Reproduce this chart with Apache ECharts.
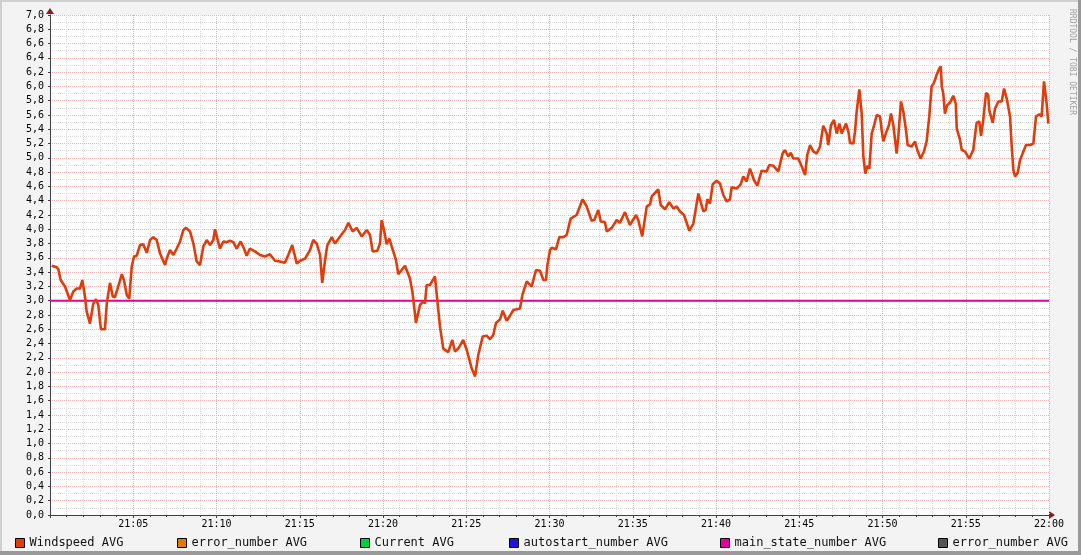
<!DOCTYPE html>
<html>
<head>
<meta charset="utf-8">
<script src="https://cdn.jsdelivr.net/npm/echarts@6/dist/echarts.min.js"></script>
<style>
html,body{margin:0;padding:0;background:#f3f3f3;}
#chart{width:1081px;height:555px;}
</style>
</head>
<body>
<div id="chart"></div>
<script>
// minutes after 21:00
const windMinutes = [0.10,0.40,0.50,0.64,0.90,1.20,1.40,1.60,1.80,1.94,2.10,2.20,2.40,2.60,2.76,2.90,3.06,3.30,3.41,3.60,3.77,3.90,4.10,4.31,4.44,4.61,4.76,4.91,5.05,5.21,5.41,5.60,5.81,6.01,6.20,6.41,6.61,6.91,7.01,7.21,7.41,7.61,7.81,8.01,8.17,8.41,8.61,8.81,9.01,9.21,9.41,9.61,9.81,9.91,10.05,10.21,10.41,10.61,10.81,11.01,11.21,11.45,11.65,11.81,12.01,12.31,12.61,12.91,13.21,13.51,13.81,14.11,14.31,14.55,14.82,15.02,15.32,15.62,15.81,16.02,16.22,16.35,16.52,16.65,16.92,17.12,17.42,17.72,17.92,18.02,18.18,18.42,18.72,19.02,19.22,19.38,19.66,19.82,19.92,20.06,20.22,20.38,20.52,20.78,20.92,21.12,21.32,21.62,21.78,21.98,22.22,22.42,22.52,22.62,22.82,23.12,23.23,23.42,23.62,23.92,24.16,24.32,24.52,24.82,25.03,25.33,25.53,25.72,25.99,26.23,26.43,26.62,26.79,27.03,27.19,27.43,27.63,27.83,28.23,28.37,28.63,28.93,29.19,29.43,29.63,29.79,29.87,30.03,30.13,30.39,30.59,30.83,31.03,31.27,31.63,31.99,32.23,32.53,32.69,32.93,33.08,33.33,33.44,33.74,34.04,34.23,34.53,34.83,35.20,35.33,35.57,35.84,36.04,36.14,36.53,36.68,36.94,37.19,37.44,37.64,37.84,38.08,38.40,38.64,38.94,39.04,39.24,39.38,39.48,39.64,39.80,40.04,40.24,40.44,40.64,40.84,40.94,41.24,41.48,41.64,41.84,42.04,42.28,42.48,42.74,43.04,43.20,43.44,43.74,43.84,44.00,44.14,44.34,44.49,44.64,44.94,45.15,45.35,45.48,45.65,45.84,46.05,46.25,46.44,46.65,46.74,46.91,47.09,47.25,47.41,47.55,47.81,47.95,48.05,48.25,48.35,48.45,48.61,48.75,48.85,48.97,49.09,49.21,49.35,49.49,49.65,49.85,49.95,50.05,50.21,50.39,50.51,50.65,50.85,50.95,51.11,51.25,51.41,51.51,51.75,51.95,52.09,52.29,52.49,52.65,52.81,52.95,53.09,53.25,53.41,53.50,53.56,53.65,53.75,53.89,54.05,54.25,54.40,54.46,54.65,54.76,54.95,55.21,55.45,55.65,55.81,55.92,56.05,56.22,56.35,56.41,56.62,56.76,56.96,57.16,57.30,57.46,57.66,57.76,57.86,57.96,58.12,58.26,58.43,58.62,58.86,59.06,59.22,59.42,59.56,59.70,59.80,59.86,59.96];
const windValues = [3.49,3.47,3.44,3.29,3.20,3.01,3.13,3.17,3.17,3.29,3.06,2.85,2.68,2.96,3.02,2.94,2.60,2.60,2.96,3.25,3.06,3.05,3.20,3.37,3.29,3.08,3.03,3.48,3.62,3.63,3.78,3.79,3.67,3.85,3.89,3.85,3.66,3.50,3.59,3.71,3.64,3.73,3.83,3.99,4.02,3.97,3.80,3.55,3.50,3.76,3.85,3.78,3.85,4.00,3.87,3.73,3.83,3.82,3.84,3.82,3.73,3.83,3.73,3.63,3.73,3.69,3.64,3.62,3.65,3.56,3.55,3.53,3.64,3.78,3.52,3.56,3.59,3.71,3.85,3.80,3.64,3.25,3.57,3.77,3.89,3.80,3.90,3.99,4.09,4.09,3.97,4.02,3.90,3.99,3.92,3.69,3.70,3.80,4.13,3.99,3.79,3.87,3.76,3.57,3.37,3.43,3.49,3.31,3.10,2.69,2.94,2.99,2.96,3.22,3.22,3.34,3.08,2.64,2.33,2.28,2.45,2.29,2.33,2.45,2.31,2.05,1.94,2.24,2.50,2.51,2.46,2.52,2.69,2.74,2.86,2.72,2.79,2.87,2.89,3.08,3.27,3.20,3.43,3.42,3.29,3.29,3.49,3.71,3.74,3.72,3.89,3.89,3.92,4.15,4.20,4.42,4.32,4.12,4.13,4.27,4.11,4.10,3.97,4.02,4.13,4.09,4.24,4.06,4.20,4.13,3.90,4.32,4.35,4.46,4.56,4.34,4.28,4.38,4.29,4.32,4.25,4.20,3.98,4.08,4.50,4.50,4.25,4.27,4.42,4.36,4.63,4.68,4.64,4.48,4.39,4.42,4.59,4.57,4.63,4.74,4.67,4.85,4.69,4.61,4.82,4.81,4.90,4.89,4.81,4.79,5.06,5.11,5.02,5.07,4.99,4.99,4.88,4.76,5.04,5.18,5.09,5.06,5.16,5.45,5.34,5.18,5.46,5.53,5.34,5.48,5.34,5.48,5.37,5.21,5.20,5.37,5.65,5.96,5.62,5.02,4.78,4.89,4.85,5.34,5.45,5.60,5.58,5.39,5.23,5.35,5.46,5.62,5.46,5.06,5.30,5.79,5.65,5.39,5.18,5.16,5.23,5.11,4.99,5.09,5.23,5.58,6.00,6.05,6.16,6.25,6.28,6.00,5.90,5.62,5.74,5.77,5.87,5.76,5.41,5.26,5.11,5.09,4.99,5.11,5.49,5.51,5.31,5.53,5.91,5.88,5.67,5.49,5.69,5.79,5.79,5.97,5.83,5.58,5.16,4.83,4.74,4.79,4.97,5.07,5.18,5.18,5.20,5.58,5.61,5.58,6.07,6.09,5.76,5.48];
const mainStateMinutes = [0, 60];
const mainStateValues = [3.0, 3.0];
const seriesNames = ['Windspeed AVG','error_number AVG','Current AVG','autostart_number AVG','main_state_number AVG','error_number AVG '];
const seriesColors = ['#e03c0c','#e07a00','#00d040','#2010e0','#e0009c','#555555'];
const yTickStep = 0.2;
const xTickStep = 5;

const chart = echarts.init(document.getElementById('chart'));
const font = 'DejaVu Sans Mono';
const windData = windMinutes.map((m,i)=>[m, windValues[i]]);
const mainData = mainStateMinutes.map((m,i)=>[m, mainStateValues[i]]);
const legendLefts = [15, 177, 360, 509, 720, 938];

const series = seriesNames.map((n,i)=>({
  name:n, type:'line', showSymbol:false, animation:false,
  data: i===0 ? windData : (i===4 ? mainData : []),
  lineStyle:{color:seriesColors[i], width: i===0 ? 2.6 : 2},
  itemStyle:{color:seriesColors[i]},
  z: i===4 ? 3 : 4
}));

chart.setOption({
  backgroundColor:'#f3f3f3',
  animation:false,
  grid:{left:50, right:32, top:15, bottom:40, show:true, backgroundColor:'#ffffff', borderWidth:0},
  legend: seriesNames.map((n,i)=>({
    data:[n], left:legendLefts[i], top:537, padding:0,
    icon:'rect', itemWidth:9, itemHeight:9, itemGap:0,
    selectedMode:false,
    itemStyle:{borderColor:'#000', borderWidth:1},
    formatter: (name)=>name.trim(),
    textStyle:{fontFamily:font, fontSize:12, color:'#111', padding:[0,0,0,0]}
  })),
  xAxis:{
    type:'value', min:0, max:60, interval:xTickStep,
    axisLine:{show:true, onZero:false, lineStyle:{color:'#404040', width:1}},
    axisTick:{show:true, length:3, lineStyle:{color:'#404040'}},
    minorTick:{show:true, splitNumber:5, length:2, lineStyle:{color:'#404040'}},
    axisLabel:{fontFamily:font, fontSize:10, color:'#000', margin:4,
      formatter:(v)=> v===0 ? '' : (v===60 ? '22:00' : '21:' + String(v).padStart(2,'0'))},
    splitLine:{show:true, lineStyle:{color:'#f2b0b0', type:'dotted', width:1}},
    minorSplitLine:{show:true, lineStyle:{color:'#dedede', type:'dotted', width:1}}
  },
  yAxis:{
    type:'value', min:0, max:7, interval:yTickStep,
    axisLine:{show:true, lineStyle:{color:'#404040', width:1}},
    axisTick:{show:true, length:2, lineStyle:{color:'#404040'}},
    minorTick:{show:false, splitNumber:2},
    axisLabel:{fontFamily:font, fontSize:10, color:'#000', margin:6,
      formatter:(v)=> v.toFixed(1).replace('.', ',')},
    splitLine:{show:true, lineStyle:{color:'#f2b0b0', type:'dotted', width:1}},
    minorSplitLine:{show:true, lineStyle:{color:'#dedede', type:'dotted', width:1}}
  },
  graphic:[
    {type:'rect', shape:{x:0,y:0,width:1081,height:2}, style:{fill:'#d0d0d0'}, silent:true},
    {type:'rect', shape:{x:0,y:0,width:2,height:555}, style:{fill:'#d0d0d0'}, silent:true},
    {type:'rect', shape:{x:0,y:551,width:1081,height:4}, style:{fill:'#999999'}, silent:true},
    {type:'rect', shape:{x:1078,y:0,width:3,height:555}, style:{fill:'#999999'}, silent:true},
    {type:'polygon', shape:{points:[[46,14],[54,14],[50,8]]}, style:{fill:'#8b1a1a'}, silent:true},
    {type:'polygon', shape:{points:[[1049,511],[1049,519],[1055,515]]}, style:{fill:'#8b1a1a'}, silent:true},
    {type:'text', x:1072, y:62, rotation:-Math.PI/2,
      style:{text:'RRDTOOL / TOBI OETIKER', fill:'#a0a0a0', font:'8px "DejaVu Sans Mono"', align:'center', verticalAlign:'middle'}, silent:true}
  ],
  series: series
});
</script>
</body>
</html>
